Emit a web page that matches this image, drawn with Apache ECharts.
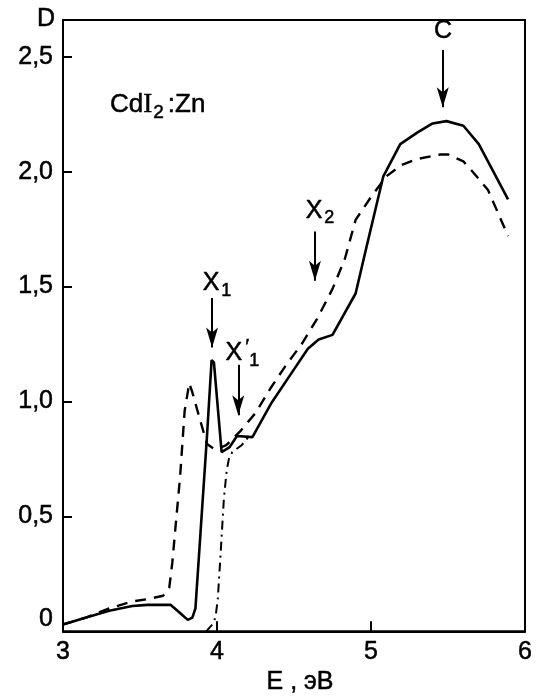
<!DOCTYPE html>
<html>
<head>
<meta charset="utf-8">
<script src="https://cdn.jsdelivr.net/npm/echarts@6/dist/echarts.min.js"></script>
<style>
  html, body { margin: 0; padding: 0; background: #fff; }
  #chart { width: 536px; height: 700px; }
</style>
</head>
<body>
<div id="chart"></div>
<script>
// энергия, эВ / оптическая плотность D
const solidE = [3.00, 3.15, 3.30, 3.45, 3.55, 3.70, 3.76, 3.81, 3.84, 3.86, 3.90, 3.935, 3.965, 3.98, 4.03, 4.08, 4.13, 4.23, 4.35, 4.49, 4.59, 4.66, 4.75, 4.90, 4.97, 5.08, 5.19, 5.30, 5.40, 5.49, 5.60, 5.70, 5.89]
const solidD = [0.03, 0.06, 0.09, 0.11, 0.115, 0.115, 0.08, 0.05, 0.06, 0.10, 0.50, 0.85, 1.18, 1.17, 0.78, 0.80, 0.85, 0.845, 0.99, 1.13, 1.23, 1.27, 1.29, 1.47, 1.67, 1.98, 2.12, 2.17, 2.21, 2.22, 2.20, 2.12, 1.88]

const dashedE = [3.00, 3.15, 3.30, 3.45, 3.55, 3.65, 3.69, 3.71, 3.73, 3.76, 3.79, 3.82, 3.84, 3.89, 3.935, 3.99, 4.06, 4.15, 4.25, 4.35, 4.45, 4.55, 4.65, 4.75, 4.83, 4.90, 5.00, 5.10, 5.20, 5.30, 5.45, 5.50, 5.60, 5.66, 5.76, 5.89]
const dashedD = [0.03, 0.06, 0.10, 0.13, 0.14, 0.155, 0.19, 0.30, 0.45, 0.67, 0.96, 1.08, 1.04, 0.92, 0.815, 0.79, 0.81, 0.87, 0.95, 1.06, 1.16, 1.25, 1.36, 1.49, 1.62, 1.79, 1.89, 1.98, 2.03, 2.055, 2.075, 2.075, 2.045, 2.00, 1.92, 1.72]

const dashDotE = [3.93, 3.97, 3.99, 4.005, 4.02, 4.045, 4.063, 4.08, 4.10, 4.16, 4.21]
const dashDotD = [0.00, 0.03, 0.06, 0.14, 0.30, 0.58, 0.70, 0.76, 0.78, 0.81, 0.85]

// стрелки: x, начало, конец
const arrowE = [5.466, 4.636, 3.968, 4.138]
const arrowFrom = [2.53, 1.74, 1.45, 1.16]
const arrowTo = [2.28, 1.525, 1.235, 0.94]

// подписи пиков
const peakNames = ['{x|C}', '{x|X}{s|2}', '{x|X}{s|1}', '{x|X}{p|′}{s|1}']
const peakE = [5.468, 4.669, 4.00, 4.165]
const peakD = [2.61, 1.83, 1.515, 1.21]

const xTicks = [3, 4, 5, 6]
const yTicks = [0, 0.5, 1.0, 1.5, 2.0, 2.5]

const font = '"Liberation Sans", Arial, sans-serif'
const pairs = (xs, ys) => xs.map((x, i) => [x, ys[i]])
// обводка чуть утолщает буквы, как на скане
const txt = (size, extra) => Object.assign({
  fontFamily: font, fontSize: size, fontWeight: 'normal', color: '#000',
  textBorderColor: '#000', textBorderWidth: 0.5,
}, extra || {})

const chart = echarts.init(document.getElementById('chart'), null, { renderer: 'canvas' })

const option = {
  animation: false,
  backgroundColor: '#fff',
  title: [
    { text: 'D', left: 32, top: 2, textStyle: txt(25) },
    {
      text: '{n|Cd}{i|I}{s|2}{n|:Zn}', left: 105, top: 83,
      textStyle: {
        fontWeight: 'normal',
        rich: {
          n: txt(26),
          i: txt(27, { fontFamily: '"Liberation Serif", serif' }),
          s: txt(19, { padding: [15, 4, 0, 1] }),
        },
      },
    },
  ],
  grid: { left: 63, right: 11, top: 20, bottom: 65, show: true, borderColor: '#000', borderWidth: 2 },
  xAxis: {
    type: 'value', min: 3, max: 6, interval: 1,
    name: 'E , эВ', nameLocation: 'middle', nameGap: 36,
    nameTextStyle: txt(25, { padding: [0, 0, 0, 12] }),
    axisLine: { lineStyle: { color: '#000', width: 2 } },
    axisTick: { inside: true, length: 10, lineStyle: { color: '#000', width: 2 } },
    axisLabel: Object.assign(txt(25), { margin: 8,
      formatter: v => xTicks.includes(v) ? String(v) : '' }),
    splitLine: { show: false },
  },
  yAxis: {
    type: 'value', min: 0, max: 2.66, interval: 0.5,
    axisLine: { lineStyle: { color: '#000', width: 2 } },
    axisTick: { inside: true, length: 9, lineStyle: { color: '#000', width: 2 } },
    axisLabel: Object.assign(txt(25), {
      margin: 10, showMaxLabel: false,
      verticalAlignMinLabel: 'bottom',
      formatter: v => yTicks.includes(+v.toFixed(2)) ? (v === 0 ? '0' : v.toFixed(1).replace('.', ',')) : '',
    }),
    splitLine: { show: false },
  },
  series: [
    {
      name: 'solid', type: 'line', data: pairs(solidE, solidD), symbol: 'none',
      lineStyle: { color: '#000', width: 2.6 },
    },
    {
      name: 'dashed', type: 'line', data: pairs(dashedE, dashedD), symbol: 'none',
      lineStyle: { color: '#000', width: 2.4, type: [11, 8] },
    },
    {
      name: 'dashdot', type: 'line', data: pairs(dashDotE, dashDotD), symbol: 'none',
      lineStyle: { color: '#000', width: 2, type: [9, 5, 2, 5] },
    },
    {
      name: 'labels', type: 'scatter', symbolSize: 1, itemStyle: { color: 'transparent', opacity: 1 },
      data: peakNames.map((n, i) => ({ value: [peakE[i], peakD[i]], name: n })),
      label: {
        show: true, position: 'inside', formatter: p => p.name, color: '#000', opacity: 1,
        rich: {
          x: txt(25),
          s: txt(18, { padding: [15, 0, 0, 2] }),
          p: txt(21, { width: 0, padding: [0, 0, 12, 5] }),
        },
      },
      markLine: {
        silent: true, symbol: ['none', 'arrow'], symbolSize: [9, 20],
        lineStyle: { color: '#000', width: 2, type: 'solid' },
        label: { show: false },
        data: arrowE.map((e, i) => [{ coord: [e, arrowFrom[i]] }, { coord: [e, arrowTo[i]] }]),
      },
    },
  ],
}

chart.setOption(option)
</script>
</body>
</html>
